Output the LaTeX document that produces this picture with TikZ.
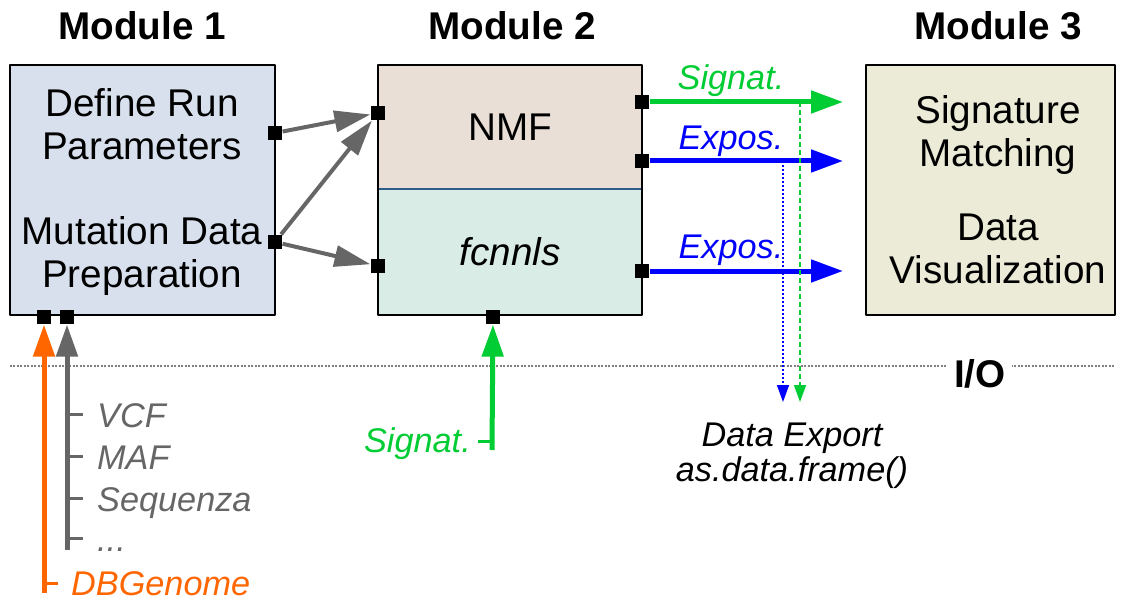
\documentclass[tikz,border=0pt]{standalone}
\usepackage{fontspec}
\setmainfont{Liberation Sans}
\usetikzlibrary{arrows.meta}
\definecolor{modonefill}{HTML}{D7E0EC}
\definecolor{nmffill}{HTML}{EADFD6}
\definecolor{fcfill}{HTML}{D9ECE5}
\definecolor{modthreefill}{HTML}{EBEBD7}
\definecolor{divcol}{HTML}{2E5C8A}
\definecolor{sigcol}{HTML}{00CC33}
\definecolor{expcol}{HTML}{0000FF}
\definecolor{dbcol}{HTML}{FF6600}
\definecolor{incol}{HTML}{666666}
\begin{document}
\begin{tikzpicture}[x=0.02cm,y=-0.02cm,line join=round,
    title/.style={font=\fontsize{22}{26}\selectfont\bfseries},
    big/.style={font=\fontsize{22}{24.4}\selectfont,align=center},
    lab/.style={font=\fontsize{19.5}{21.5}\selectfont\itshape},
    box/.style={draw,line width=0.05cm,minimum height=5cm},
    port/.style={fill=black,inner sep=0pt,minimum size=0.29cm},
    link/.style={incol,line width=0.08cm,-{Triangle[length=0.72cm,width=0.42cm]}},
    flow/.style={line width=0.1cm,-{Triangle[length=0.64cm,width=0.44cm]}},
    feed/.style={line width=0.1cm,-{Triangle[length=0.64cm,width=0.42cm]}},
    export/.style={line width=0.03cm,-{Triangle[length=0.34cm,width=0.24cm]}}]
  \useasboundingbox (0,0) rectangle (1125,601);
  % titles
  \node[title,anchor=base] (t1) at (142,40) {Module 1};
  \node[title,anchor=base] (t2) at (512,40) {Module 2};
  \node[title,anchor=base] (t3) at (998,40) {Module 3};
  % module 1
  \node[box,fill=modonefill,minimum width=5.3cm] (m1) at (142.5,190) {};
  \node[big] (runpar) at (142,124) {Define Run\\Parameters};
  \node[big] (mutprep) at (142,256) {Mutation Data\\Preparation};
  % module 2
  \node[fill=nmffill,minimum width=5.28cm,minimum height=2.48cm,big] (nmf) at (510,127) {NMF};
  \node[fill=fcfill,minimum width=5.28cm,minimum height=2.52cm,big] (fcnnls) at (510,252) {\itshape fcnnls};
  \draw[divcol,line width=0.04cm] (nmf.south west) -- (nmf.south east);
  \node[box,minimum width=5.28cm] (m2) at (510,190) {};
  % module 3
  \node[box,fill=modthreefill,minimum width=4.98cm] (m3) at (990.5,190) {};
  \node[big] (sigmatch) at (998,135) {Signature\\Matching};
  \node[big] (datavis) at (998,249) {Data\\Visualization};
  % I/O separator
  \draw[gray,line width=0.03cm,dash pattern=on 0.04cm off 0.03cm] (10,366) -- (1115,366);
  \node[title,fill=white,inner xsep=0.12cm,anchor=base] (io) at (980,387) {I/O};
  % ports
  \node[port] (pa) at (275,133) {};
  \node[port] (pb) at (275,242) {};
  \node[port] (pc) at (378,113) {};
  \node[port] (pd) at (378,266) {};
  \node[port] (pe) at (642,102) {};
  \node[port] (pf) at (642,161) {};
  \node[port] (pg) at (642,271) {};
  \node[port] (ph) at (44,317) {};
  \node[port] (pi) at (67,317) {};
  \node[port] (pj) at (493,317) {};
  % module 1 -> module 2
  \draw[link] (pa) -- (pc);
  \draw[link] (pb) -- (pc);
  \draw[link] (pb) -- (pd);
  % module 2 -> module 3
  \coordinate (sigend) at (843,102);
  \coordinate (expend) at (843,161);
  \coordinate (fcend) at (843,271);
  \draw[flow,sigcol] (pe) -- (sigend);
  \draw[flow,expcol] (pf) -- (expend);
  \draw[flow,expcol] (pg) -- (fcend);
  \node[lab,sigcol] (lsig) at (731,81) {Signat.};
  \node[lab,expcol] (lexp) at (731,141) {Expos.};
  \node[lab,expcol] (lfc) at (731,250) {Expos.};
  % export
  \coordinate (xb) at (783,161);
  \coordinate (xbend) at (783,402);
  \coordinate (xg) at (800,102);
  \coordinate (xgend) at (800,402);
  \draw[export,expcol,dash pattern=on 0.04cm off 0.04cm] (xb) -- (xbend);
  \draw[export,sigcol,dash pattern=on 0.1cm off 0.06cm] (xg) -- (xgend);
  \node[lab,anchor=base] (dexp) at (792,446) {Data Export};
  \node[lab,anchor=base] (dfun) at (792,481) {as.data.frame()};
  % inputs
  \coordinate (dbbot) at (44,593);
  \coordinate (inbot) at (67,550);
  \coordinate (sgbot) at (492,450);
  \draw[feed,dbcol] (dbbot) -- (ph);
  \draw[feed,incol] (inbot) -- (pi);
  \draw[feed,sigcol] (sgbot) -- (pj);
  \draw[dbcol,line width=0.06cm] (44,583) -- ++(14,0);
  \foreach \y/\txt in {427/VCF,469/MAF,511/Sequenza} {
    \draw[incol,line width=0.06cm] (67,\y-13) -- ++(16,0);
    \node[lab,incol,anchor=base west] (in\txt) at (91,\y) {\txt};
  }
  \draw[incol,line width=0.06cm] (67,538) -- ++(16,0);
  \node[lab,incol,anchor=base west] (inmore) at (91,551) {...};
  \node[lab,dbcol,anchor=base west,inner ysep=0pt] (dbg) at (65,595) {DBGenome};
  \draw[sigcol,line width=0.06cm] (478,441) -- (492,441);
  \node[lab,sigcol,anchor=base east] (lsgin) at (477,452) {Signat.};
\end{tikzpicture}
\end{document}
